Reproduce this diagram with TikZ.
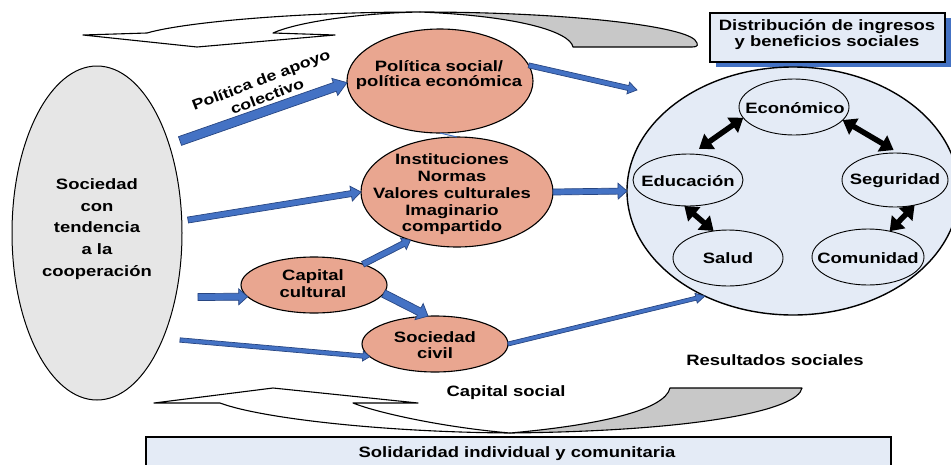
\documentclass[tikz,border=0pt]{standalone}
\usepackage{fontspec}
\setmainfont{Liberation Sans}[FakeStretch=1.23]
\usetikzlibrary{shapes.geometric,calc,arrows.meta,shadows}
\definecolor{salmon}{RGB}{233,166,144}
\definecolor{ellgray}{RGB}{230,230,230}
\definecolor{lightblue}{RGB}{228,235,246}
\definecolor{arrblue}{RGB}{68,114,196}
\definecolor{arrdark}{RGB}{40,70,130}
\definecolor{twistgray}{RGB}{200,200,200}
\definecolor{shadowblue}{RGB}{68,114,196}
\newcommand\blkarrow[5]{%
  \coordinate (bA) at (#1);
  \coordinate (bB) at (#2);
  \coordinate (bH) at ($(bB)!#5!(bA)$);
  \filldraw[blockarr] ($(bA)!#3!90:(bB)$) -- ($(bH)!#3!-90:(bA)$) -- ($(bH)!#4!-90:(bA)$) -- (bB) -- ($(bH)!#4!90:(bA)$) -- ($(bH)!#3!90:(bA)$) -- ($(bA)!#3!-90:(bB)$) -- cycle;}
\begin{document}
\begin{tikzpicture}[x=1pt,y=-1pt,
  txt/.style={font=\fontsize{15}{17}\selectfont\bfseries, align=center, inner sep=0pt},
  ell/.style={ellipse, draw=black, line width=1.1pt, inner sep=0pt, outer sep=0pt},
  salm/.style={ell, fill=salmon},
  blueell/.style={ell, fill=lightblue, line width=0.9pt},
  blockarr/.style={fill=arrblue, draw=arrdark, line width=0.7pt, line join=miter},
  dbl/.style={line width=5.5pt, {Triangle[length=13pt,width=18pt]}-{Triangle[length=13pt,width=18pt]}},
  curv/.style={draw=black, line width=1.1pt, line join=round},
  boxst/.style={draw=black, line width=1.1pt, fill=lightblue, inner sep=0pt}
]
\clip (0,0) rectangle (951,464);
\fill[white] (0,0) rectangle (951,464);

% top curved arrow
\draw[curv, fill=white] (83,35) -- (147,33) .. controls (185,22) and (300,12) .. (420,12)
  .. controls (365,13) and (300,21) .. (273,33) -- (335,35) -- (197,47) -- cycle;
\draw[curv, fill=twistgray] (420,12) .. controls (560,12) and (680,25) .. (695,40)
  .. controls (699,45) and (698,47) .. (692,47) -- (573,47)
  .. controls (570,32) and (520,16) .. (420,12) -- cycle;

% bottom curved arrow
\draw[curv, fill=white] (154,403) -- (273,388) -- (418,403) -- (353,403)
  .. controls (375,412) and (440,427) .. (510,433)
  .. controls (380,432) and (260,418) .. (220,403) -- cycle;
\draw[curv, fill=twistgray] (510,433) .. controls (600,425) and (665,410) .. (670,388)
  -- (802,388) .. controls (798,410) and (700,431) .. (510,433) -- cycle;

% left ellipse
\node[ell, fill=ellgray, line width=1pt, minimum width=170, minimum height=334] (soc) at (97,233) {};
\node[txt, font=\fontsize{15}{21.7}\selectfont\bfseries] (socT) at (97,229) {Sociedad\\con\\tendencia\\a la\\cooperación};

% top right box
\node[boxst, minimum width=235, minimum height=49,
  drop shadow={shadow xshift=6pt, shadow yshift=-5pt, fill=shadowblue, opacity=1}] (dist) at (827.5,37.5) {};
\node[txt, font=\fontsize{15}{16}\selectfont\bfseries] (distT) at (827,35) {Distribución de ingresos\\y beneficios sociales};

% bottom box
\node[boxst, minimum width=745, minimum height=36] (soli) at (518.5,455) {};
\node[txt] (soliT) at (517,454) {Solidaridad individual y comunitaria};

% results circle
\node[ell, fill=lightblue, line width=1.4pt, minimum width=332, minimum height=248] (res) at (793,191) {};
\node[blueell, minimum width=110, minimum height=56] (eco) at (794,107) {};
\node[blueell, minimum width=110, minimum height=52] (edu) at (688,180) {};
\node[blueell, minimum width=106, minimum height=54] (seg) at (895,180) {};
\node[blueell, minimum width=110, minimum height=56] (sal) at (728,258) {};
\node[blueell, minimum width=112, minimum height=56] (com) at (868,257) {};
\node[txt] (ecoT) at (795,108) {Económico};
\node[txt] (eduT) at (688,181) {Educación};
\node[txt] (segT) at (895,181) {Seguridad};
\node[txt] (salT) at (728,258) {Salud};
\node[txt] (comT) at (868,258) {Comunidad};

\draw[dbl, shorten >=9pt] (eco.192) -- (edu.82);
\draw[dbl, shorten >=6pt] (eco.-15) -- (seg.82);
\draw[dbl] (edu.262) -- (sal.118);
\draw[dbl] (seg.-52) -- (com.50);

% salmon ellipses
\node[salm, minimum width=186, minimum height=104] (pol) at (440,81) {};
\node[txt, font=\fontsize{15}{15.5}\selectfont\bfseries] (polT) at (439,75) {Política social/\\política económica};
\node[salm, minimum width=192, minimum height=110] (inst) at (457,192) {};
\node[txt, font=\fontsize{15}{16.8}\selectfont\bfseries] (instT) at (452,194.5) {Instituciones\\Normas\\Valores culturales\\Imaginario\\compartido};
\node[salm, minimum width=146, minimum height=56] (cap) at (314,285) {};
\node[txt] (capT) at (313,283.5) {Capital\\cultural};
\node[salm, minimum width=146, minimum height=56] (civ) at (435,344) {};
\node[txt, font=\fontsize{15}{16}\selectfont\bfseries] (civT) at (435,345) {Sociedad\\civil};

\draw[arrblue, line width=1pt] (pol.south) -- (inst.north);

% free tail ends
\coordinate (t1) at (180,141);
\coordinate (t2) at (188,220);
\coordinate (t3) at (198,297);
\coordinate (t4) at (180,340);
\coordinate (t7) at (637,90);

% block arrows
\blkarrow{t1}{pol.181}{4.6pt}{9pt}{13pt}
\blkarrow{t2}{inst.180}{3pt}{7.5pt}{10pt}
\blkarrow{t3}{cap.190}{3.5pt}{8pt}{9pt}
\blkarrow{t4}{civ.191}{2.2pt}{5pt}{7pt}
\blkarrow{cap.23}{inst.226}{3pt}{6.5pt}{8pt}
\blkarrow{cap.-7}{civ.104}{4pt}{9pt}{10pt}
\blkarrow{pol.10}{t7}{2.5pt}{6pt}{9pt}
\blkarrow{inst.0}{res.180}{3pt}{8pt}{9pt}
\blkarrow{civ.0}{res.230}{2pt}{5pt}{9pt}

% free labels
\node[txt, font=\fontsize{14.5}{17.6}\selectfont\bfseries, rotate=21] (apoyo) at (264,88) {Política de apoyo\\colectivo};
\node[txt] (capsoc) at (506,393) {Capital social};
\node[txt] (resul) at (775,360) {Resultados sociales};
\end{tikzpicture}
\end{document}
